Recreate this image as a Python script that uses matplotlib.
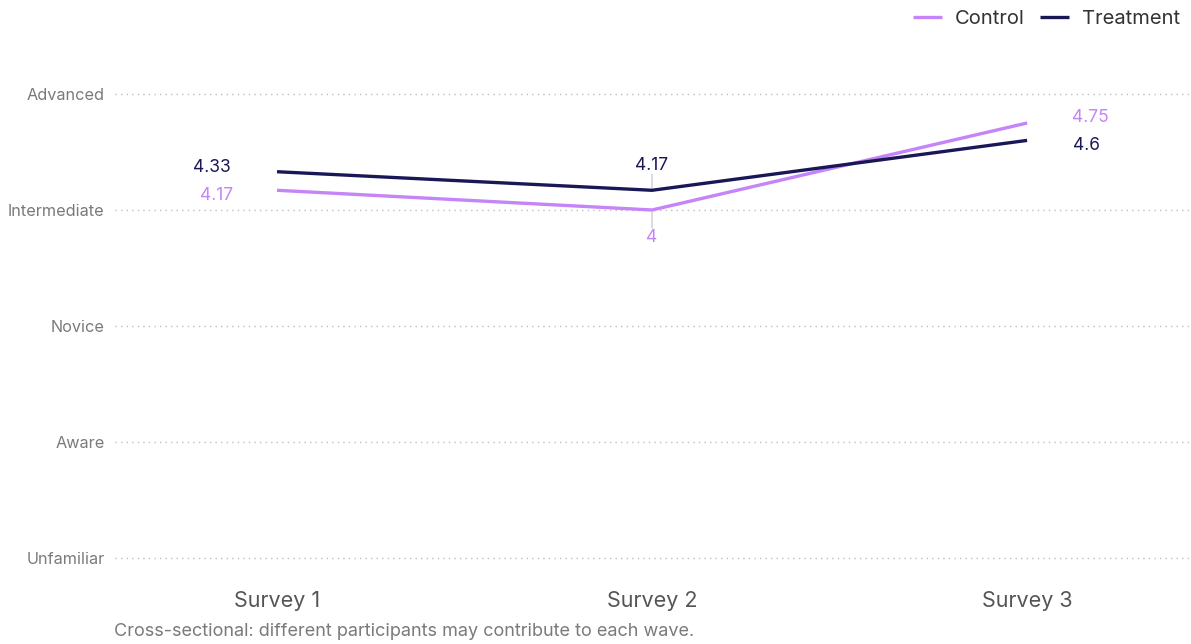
import matplotlib
matplotlib.use("Agg")
import matplotlib.pyplot as plt

categories = ["Survey 1", "Survey 2", "Survey 3"]
control = [4.17, 4.0, 4.75]
treatment = [4.33, 4.17, 4.6]
control_labels = ["4.17", "4", "4.75"]
treatment_labels = ["4.33", "4.17", "4.6"]
level_values = [1, 2, 3, 4, 5]
level_labels = ["Unfamiliar", "Aware", "Novice", "Intermediate", "Advanced"]

C_CTRL = "#C584F7"
C_TRT = "#1A1756"
C_GRID = "#BDBDBD"
C_TXT = "#7A7A7A"

plt.rcParams['font.family'] = ['Inter', 'DejaVu Sans']

W, H = 1191, 644
fig = plt.figure(figsize=(W / 100, H / 100), dpi=100)
ax = fig.add_axes([115 / W, 1 - 558 / H, (1191 - 115) / W, (558 - 94) / H])
ax.set_xlim(-0.432, 2.437)
ax.set_ylim(1, 5)
for s in ax.spines.values():
    s.set_visible(False)

x = list(range(len(categories)))
for v in level_values:
    ax.axhline(v, color=C_GRID, lw=1.0, ls=(0, (1, 3)), zorder=0, clip_on=False)

ax.plot(x, control, color=C_CTRL, lw=2.4, label="Control", zorder=3, solid_capstyle='butt')
ax.plot(x, treatment, color=C_TRT, lw=2.4, label="Treatment", zorder=3, solid_capstyle='butt')

ax.set_yticks(level_values)
ax.set_yticklabels(level_labels, fontsize=11.7, color=C_TXT)
ax.set_xticks(x)
ax.set_xticklabels(categories, fontsize=15.5, color="#555555")
ax.tick_params(axis='y', length=0, pad=7.5)
ax.tick_params(axis='x', length=0, pad=24)

fs = 12.5
# Survey 1: left
ax.annotate(treatment_labels[0], (x[0], treatment[0]), xytext=(-46, 4), textcoords='offset pixels',
            ha='right', va='center', fontsize=fs, color=C_TRT)
ax.annotate(control_labels[0], (x[0], control[0]), xytext=(-44, -5), textcoords='offset pixels',
            ha='right', va='center', fontsize=fs, color=C_CTRL)
# Survey 2: above/below with leader lines
ax.annotate("", (x[1], treatment[1]), xytext=(0, 16), textcoords='offset pixels',
            arrowprops=dict(arrowstyle='-', color='#CFCFCF', lw=1.0, shrinkA=0, shrinkB=1.5), zorder=2)
ax.annotate("", (x[1], control[1]), xytext=(0, -18), textcoords='offset pixels',
            arrowprops=dict(arrowstyle='-', color='#CFCFCF', lw=1.0, shrinkA=0, shrinkB=1.5), zorder=2)
ax.annotate(treatment_labels[1], (x[1], treatment[1]), xytext=(0, 25), textcoords='offset pixels',
            ha='center', va='center', fontsize=fs, color=C_TRT)
ax.annotate(control_labels[1], (x[1], control[1]), xytext=(0, -27), textcoords='offset pixels',
            ha='center', va='center', fontsize=fs, color=C_CTRL)
# Survey 3: right
ax.annotate(control_labels[2], (x[2], control[2]), xytext=(45, 6), textcoords='offset pixels',
            ha='left', va='center', fontsize=fs, color=C_CTRL)
ax.annotate(treatment_labels[2], (x[2], treatment[2]), xytext=(46, -5), textcoords='offset pixels',
            ha='left', va='center', fontsize=fs, color=C_TRT)

leg = fig.legend(loc='upper right', bbox_to_anchor=(1.006, 1.013), ncol=2, frameon=False,
                 fontsize=14.5, handlelength=1.45, handletextpad=0.62, columnspacing=0.78)
for t in leg.get_texts():
    t.set_color("#333333")

fig.text(114 / W, 1 - 631 / H, "Cross-sectional: different participants may contribute to each wave.",
         fontsize=13, color=C_TXT, ha='left', va='center')

fig.savefig("out.png", dpi=100)
